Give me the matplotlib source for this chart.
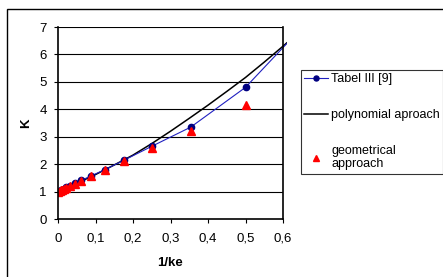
import matplotlib
matplotlib.use('Agg')
import matplotlib.pyplot as plt
from matplotlib.patches import Rectangle

plt.rcParams['font.family'] = ['Liberation Sans', 'DejaVu Sans']

# Tabel III [9]
x_tab = [0.0, 0.0078, 0.011, 0.0156, 0.022, 0.031, 0.044, 0.0625, 0.088, 0.125, 0.177, 0.25, 0.354, 0.5, 0.707]
k_tab = [1.0, 1.05, 1.07, 1.1, 1.15, 1.22, 1.32, 1.41, 1.57, 1.8, 2.15, 2.65, 3.35, 4.8, 7.8]

# polynomial aproach
x_poly = [0.0, 0.05, 0.1, 0.15, 0.2, 0.25, 0.3, 0.35, 0.4, 0.45, 0.5, 0.55, 0.6, 0.61]
k_poly = [1.0, 1.3, 1.62, 1.97, 2.33, 2.75, 3.2, 3.67, 4.15, 4.65, 5.16, 5.72, 6.3, 6.42]

# geometrical approach
x_geo = [0.0, 0.0055, 0.0078, 0.011, 0.0156, 0.022, 0.031, 0.044, 0.0625, 0.088, 0.125, 0.177, 0.25, 0.354, 0.5]
k_geo = [1.0, 1.03, 1.05, 1.06, 1.1, 1.13, 1.2, 1.28, 1.38, 1.57, 1.8, 2.12, 2.58, 3.2, 4.15]

xticks = [0, 0.1, 0.2, 0.3, 0.4, 0.5, 0.6]
xticklabels = ['0', '0,1', '0,2', '0,3', '0,4', '0,5', '0,6']
yticks = [0, 1, 2, 3, 4, 5, 6, 7]

W, H = 443, 277
fig = plt.figure(figsize=(W / 100, H / 100), dpi=100)
ax = fig.add_axes([58 / W, 1 - 219 / H, (283 - 58) / W, (219 - 27) / H])

for y in yticks[1:]:
    ax.axhline(y, color='black', lw=0.8, zorder=1)

# lines run a little past the last gridline, like in the original
clip = Rectangle((0, 0), 0.611, 7, transform=ax.transData)

l1, = ax.plot(x_tab, k_tab, color='#2020c0', lw=0.8, marker='o', ms=4.5,
              mfc='#000080', mec='#000080', zorder=3, label='Tabel III [9]')
l2, = ax.plot(x_poly, k_poly, color='black', lw=1.1, zorder=2, label='polynomial aproach')
for l in (l1, l2):
    l.set_clip_path(clip)
ax.plot(x_geo, k_geo, ls='none', marker='^', ms=6, color='#ff0000',
        zorder=4, label='geometrical\napproach')

ax.set_xlim(0, 0.6)
ax.set_ylim(0, 7)
ax.set_xticks(xticks)
ax.set_xticklabels(xticklabels)
ax.set_yticks(yticks)
ax.tick_params(labelsize=9.5, length=3, width=0.8, direction='out')
ax.tick_params(axis='x', pad=7)
ax.tick_params(axis='y', pad=5)
ax.spines['top'].set_visible(False)
ax.spines['right'].set_visible(True)
for s in ('left', 'bottom', 'right'):
    ax.spines[s].set_linewidth(1.2)
    ax.spines[s].set_color('black')
    ax.spines[s].set_zorder(5)
ax.set_xlabel('1/ke', fontsize=9.5, fontweight='bold', labelpad=9)
ax.set_ylabel('K', fontsize=9.5, fontweight='bold', labelpad=5)

leg = fig.legend(loc='upper left', bbox_to_anchor=(301 / W, 1 - 70 / H),
                 fontsize=9, frameon=True, fancybox=False, edgecolor='black',
                 labelspacing=1.9, handlelength=1.9, handletextpad=0.25,
                 borderpad=0.25, borderaxespad=0, markerscale=0.8)
leg.get_frame().set_linewidth(0.8)

fig.patches.append(Rectangle((7 / W, -0.1), 1.2, 0.1 + 1 - 9 / H, transform=fig.transFigure,
                             fill=False, edgecolor='black', lw=1.0))

fig.savefig('out.png', dpi=100)
